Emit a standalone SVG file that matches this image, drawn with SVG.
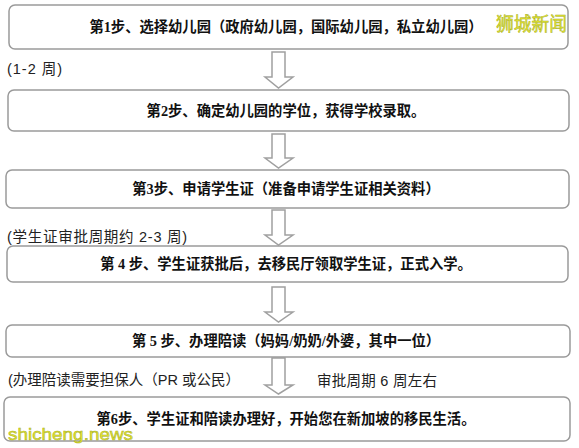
<svg xmlns="http://www.w3.org/2000/svg" width="579" height="448" viewBox="0 0 579 448">
<defs>
<style>
.box{fill:#fff;stroke:#9a9a9a;stroke-width:1.5}
.arrow{fill:#fff;stroke:#a0a0a0;stroke-width:1.5;stroke-linejoin:miter}
.t{font-family:"Liberation Serif","Noto Sans CJK SC",serif;font-weight:bold;font-size:14.3px;fill:#111;text-anchor:middle}
.lbl{font-family:"Liberation Sans","Noto Sans CJK SC",sans-serif;font-size:14.5px;fill:#222}
.wm{font-family:"Liberation Sans","Noto Sans CJK SC",sans-serif;fill:#e6e632;stroke:#a8b020;stroke-width:0.5}
</style>
</defs>
<rect width="579" height="448" fill="#fff"/>
<g id="connectors">
<polygon class="arrow" points="272,52 285,52 285,77 293,77 278.5,88 265,77 272,77"/>
<polygon class="arrow" points="272,134 285,134 285,158 293,158 278.5,168 265,158 272,158"/>
<polygon class="arrow" points="272,210 285,210 285,235 293,235 278.5,245 265,235 272,235"/>
<polygon class="arrow" points="272,287 285,287 285,312 293,312 278.5,322 265,312 272,312"/>
<polygon class="arrow" points="272,358 285,358 285,385 293,385 278.5,394 265,385 272,385"/>
</g>
<g id="step1">
<rect class="box" x="9" y="5" width="559" height="44" rx="6"/>
<text class="t" x="286" y="32">第1步、选择幼儿园（政府幼儿园，国际幼儿园，私立幼儿园）</text>
</g>
<g id="step2">
<rect class="box" x="8" y="90" width="561" height="41" rx="6"/>
<text class="t" x="286" y="116">第2步、确定幼儿园的学位，获得学校录取。</text>
</g>
<g id="step3">
<rect class="box" x="6" y="170" width="563" height="38" rx="6"/>
<text class="t" x="286" y="194">第3步、申请学生证（准备申请学生证相关资料）</text>
</g>
<g id="step4">
<rect class="box" x="7" y="246" width="561" height="36" rx="6"/>
<text class="t" x="286" y="269">第 4 步、学生证获批后，去移民厅领取学生证，正式入学。</text>
</g>
<g id="step5">
<rect class="box" x="6" y="325" width="564" height="32" rx="6"/>
<text class="t" x="286" y="346">第 5 步、办理陪读（妈妈/奶奶/外婆，其中一位）</text>
</g>
<g id="step6">
<rect class="box" x="4" y="397" width="566" height="44" rx="6"/>
<text class="t" x="286" y="424">第6步、学生证和陪读办理好，开始您在新加坡的移民生活。</text>
</g>
<g id="labels">
<text class="lbl" x="7" y="74" textLength="55" lengthAdjust="spacing">(1-2 周)</text>
<text class="lbl" x="7" y="242" textLength="180" lengthAdjust="spacing">(学生证审批周期约 2-3 周)</text>
<text class="lbl" x="8" y="385" textLength="232" lengthAdjust="spacing">(办理陪读需要担保人（PR 或公民）</text>
<text class="lbl" x="317" y="386" textLength="120" lengthAdjust="spacing">审批周期 6 周左右</text>
</g>
<g id="watermarks">
<text class="wm" x="496" y="31" font-size="19" textLength="71" lengthAdjust="spacingAndGlyphs">狮城新闻</text>
<text class="wm" x="8" y="440" font-size="17" textLength="125" lengthAdjust="spacingAndGlyphs">shicheng.news</text>
</g>
</svg>
